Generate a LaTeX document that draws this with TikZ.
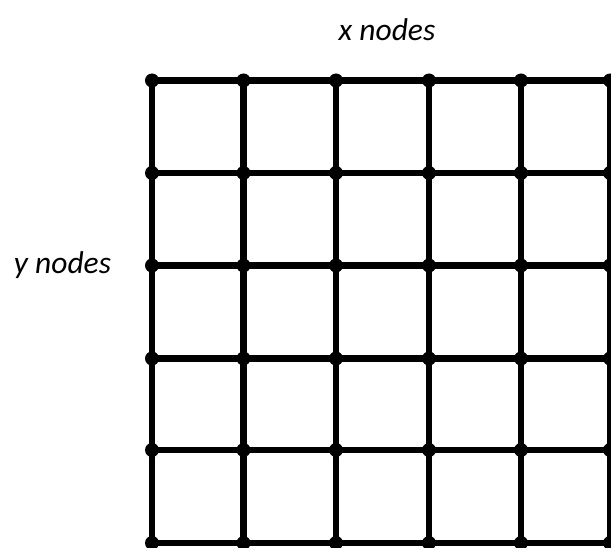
\documentclass[tikz,border=0pt]{standalone}
\usepackage{fontspec}
\setmainfont{Carlito}
\begin{document}
\begin{tikzpicture}[x=1pt,y=-1pt,
  gridline/.style={line width=6.5pt},
  dot/.style={circle,fill=black,inner sep=0pt,minimum size=14pt},
  lbl/.style={font=\fontsize{31.5}{36}\selectfont\itshape,inner sep=0pt}]
\useasboundingbox (0,0) rectangle (611,548);
\foreach \c/\x in {1/152,2/243.5,3/336,4/429,5/521,6/610}{
  \foreach \r/\y in {1/80.5,2/173,3/265.5,4/358.5,5/450,6/543}{
    \node[dot] (n-\c-\r) at (\x,\y) {};
  }
}
\foreach \c in {1,...,6}{
  \draw[gridline] (n-\c-1.center) -- (n-\c-6.center);
}
\foreach \r in {1,...,6}{
  \draw[gridline] (n-1-\r.center) -- (n-6-\r.center);
}
\node[lbl] (xl) at (387,30) {x nodes};
\node[lbl] (yl) at (62.5,265) {y nodes};
\end{tikzpicture}
\end{document}
